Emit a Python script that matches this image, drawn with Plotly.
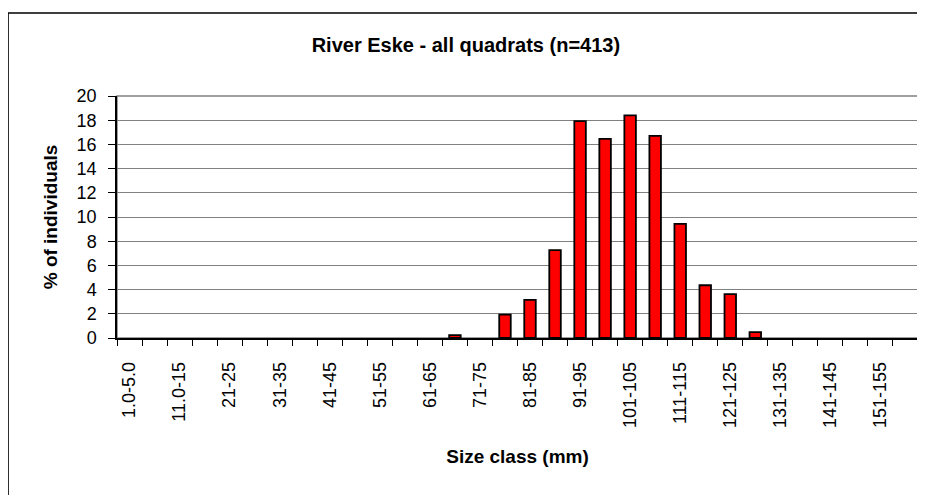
import plotly.graph_objects as go

# Size classes (mm)
categories = ["1.0-5.0", "6.0-10", "11.0-15", "16-20", "21-25", "26-30", "31-35", "36-40",
              "41-45", "46-50", "51-55", "56-60", "61-65", "66-70", "71-75", "76-80",
              "81-85", "86-90", "91-95", "96-100", "101-105", "106-110", "111-115", "116-120",
              "121-125", "126-130", "131-135", "136-140", "141-145", "146-150", "151-155", "156-160"]

# % of individuals
percent = [0, 0, 0, 0, 0, 0, 0, 0,
           0, 0, 0, 0, 0, 0.24, 0, 1.94,
           3.15, 7.26, 17.92, 16.46, 18.40, 16.71, 9.44, 4.36,
           3.63, 0.48, 0, 0, 0, 0, 0, 0]

tick_labels = [c if i % 2 == 0 else "" for i, c in enumerate(categories)]
y_ticks = list(range(0, 21, 2))

FONT = "Liberation Sans, Arial, sans-serif"

# empty classes get no outline (Excel draws nothing for zero-height bars)
outline_w = [1.8 if v > 0 else 0 for v in percent]

fig = go.Figure()
fig.add_trace(go.Bar(
    x=categories, y=percent,
    marker=dict(color="#FF0000", line=dict(color="#000000", width=outline_w)),
    width=0.46,
))

fig.update_layout(
    width=925, height=495,
    margin=dict(l=109, r=15, t=88, b=165, autoexpand=False),
    paper_bgcolor="white", plot_bgcolor="white",
    showlegend=False,
    font=dict(family=FONT, color="#000000", size=18),
    title=dict(text="<b>River Eske - all quadrats (n=413)</b>",
               x=0.495, xanchor="center", y=0.925, yanchor="middle",
               font=dict(family=FONT, size=20, color="#000000")),
)

fig.update_xaxes(
    type="category", automargin=False,
    tickmode="array", tickvals=categories, ticktext=tick_labels,
    tickson="boundaries",
    tickangle=-90,
    ticks="outside", ticklen=6, tickcolor="#000000", tickwidth=1,
    ticklabelstandoff=15,
    showline=True, linecolor="#000000", linewidth=1.5,
    showgrid=False,
    tickfont=dict(family=FONT, size=18),
    title=dict(text="<b>Size class (mm)</b>", font=dict(family=FONT, size=19), standoff=23),
    range=[-0.5, len(categories) - 0.5],
)

fig.update_yaxes(
    automargin=False,
    range=[0, 20], tickmode="array", tickvals=y_ticks,
    ticks="outside", ticklen=7, tickcolor="#000000", tickwidth=1,
    ticklabelstandoff=8,
    showline=True, linecolor="#000000", linewidth=1.5,
    showgrid=True, gridcolor="#808080", gridwidth=1,
    zeroline=False,
    tickfont=dict(family=FONT, size=18),
    title=dict(text="<b>% of individuals</b>", font=dict(family=FONT, size=19), standoff=14),
)

# plot-area border (gray) and outer chart frame
fig.add_shape(type="rect", xref="paper", yref="paper", x0=0, y0=0, x1=1, y1=1,
              line=dict(color="#808080", width=1.5), layer="below")
fig.add_shape(type="rect", xref="paper", yref="paper", x0=-0.136, y0=-0.72, x1=1.2, y1=1.343,
              line=dict(color="#000000", width=1.5), layer="below")

fig.write_html("out.html")
